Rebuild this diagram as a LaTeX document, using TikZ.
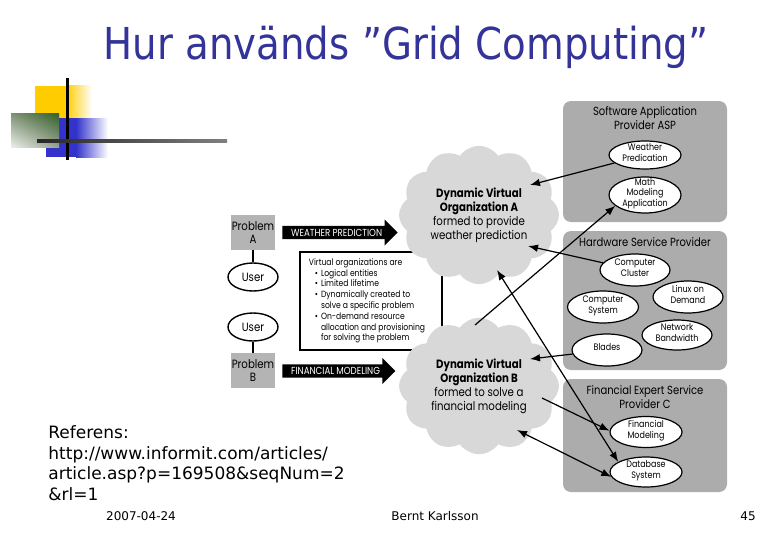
\documentclass[tikz,border=0pt]{standalone}
\usepackage{fontspec}
\setmainfont{DejaVu Sans}
\newfontfamily\figfont[FakeStretch=0.85]{Poppins}
\newfontfamily\titlefont[FakeStretch=0.88]{DejaVu Sans}
\usetikzlibrary{shapes.geometric,shapes.symbols,shapes.arrows,arrows.meta,calc,shadings}
\definecolor{titleblue}{RGB}{51,51,153}
\definecolor{cloudgray}{RGB}{216,216,216}
\definecolor{panelgray}{RGB}{172,172,172}
\definecolor{probgray}{RGB}{180,180,180}
\definecolor{decoyellow}{RGB}{255,204,0}
\definecolor{decoblue}{RGB}{51,51,204}
\definecolor{decogreen}{RGB}{50,95,40}
\definecolor{greenlt}{RGB}{125,145,115}
\definecolor{greenmd}{RGB}{150,160,140}
\definecolor{greenwh}{RGB}{236,238,234}
\newcommand{\svclines}[1]{\smash{\lower0.6pt\hbox{\begin{tabular}{@{}c@{}}#1\end{tabular}}}}

\begin{document}
\begin{tikzpicture}[x=0.5pt,y=-0.5pt,
  panel/.style={fill=panelgray,rounded corners=4pt,inner sep=0pt},
  paneltitle/.style={font=\figfont\fontsize{5.9}{6.6}\selectfont,align=center,inner sep=0pt},
  svc/.style={ellipse,draw,fill=white,line width=0.6pt,inner sep=0pt,font=\figfont\fontsize{4.7}{5.3}\selectfont},
  problem/.style={fill=probgray,minimum width=22pt,minimum height=17.5pt,inner sep=0pt,align=center,font=\figfont\fontsize{6}{6.6}\selectfont},
  user/.style={ellipse,draw,line width=0.7pt,minimum width=25pt,minimum height=14pt,inner sep=0pt,font=\figfont\fontsize{6}{7}\selectfont},
  task/.style={single arrow,fill=black,text=white,single arrow head extend=3.2pt,inner xsep=4.2pt,inner ysep=1.3pt,text height=3.6pt,text depth=0pt,font=\figfont\fontsize{5.1}{6}\selectfont},
  org/.style={cloud,cloud puffs=12,cloud puff arc=110,aspect=1.1,fill=cloudgray,minimum width=80pt,minimum height=60pt,inner sep=0pt,align=center,font=\figfont\fontsize{6}{7}\selectfont},
  conn/.style={line width=0.6pt,-{Latex[length=5pt,width=3.8pt]}},
  both/.style={line width=0.6pt,{Latex[length=5pt,width=3.8pt]}-{Latex[length=5pt,width=3.8pt]}},
  slide/.style={font=\fontsize{8.5}{10.4}\selectfont,inner sep=0pt},
  footer/.style={font=\fontsize{6}{7}\selectfont,inner sep=0pt}]
\useasboundingbox (0,0) rectangle (780,540);

\fill[decoyellow] (35,86) rectangle (66,128);
\shade[left color=decoyellow,right color=white] (66,86) rectangle (92,128);
\fill[decoblue] (46,118) rectangle (76,157);
\shade[left color=decoblue,right color=white] (76,118) rectangle (108,157);
\shade[upper left=greenlt,upper right=decogreen,lower left=greenwh,lower right=greenmd] (11,113) rectangle (59,147);
\draw[line width=1.5pt] (67,78) -- (67,160);
\shade[left color=black!85,right color=black!50] (37,139.5) rectangle (227,142.5);

\node[anchor=base,text=titleblue,font=\titlefont\fontsize{22}{26}\selectfont] (title) at (406,60) {Hur används ”Grid Computing”};

\node[problem] (probA) at (253,232.5) {Problem\\A};
\node[user] (userA) at (253,277) {User};
\node[user] (userB) at (253,327) {User};
\node[problem] (probB) at (253,370.5) {Problem\\B};
\draw[line width=1pt] (probA) -- (userA);
\draw[line width=1pt] (userB) -- (probB);
\node[task,anchor=west] (wpred) at (282,232.5) {WEATHER PREDICTION};
\node[task,anchor=west] (fmod) at (282,371) {FINANCIAL MODELING};

\node[draw,line width=0.6pt,fill=white,minimum width=71pt,minimum height=49pt,inner sep=0pt,
  font=\figfont\fontsize{4.5}{5.4}\selectfont] (vonote) at (371,301)
  {\begin{tabular}{@{}l@{\hspace{1.5pt}}l@{}}
   \multicolumn{2}{@{}l}{Virtual organizations are}\\
   \hspace{3pt}\textbullet & Logical entities\\
   \hspace{3pt}\textbullet & Limited lifetime\\
   \hspace{3pt}\textbullet & Dynamically created to\\
   & solve a specific problem\\
   \hspace{3pt}\textbullet & On-demand resource\\
   & allocation and provisioning\\
   & for solving the problem
  \end{tabular}\hspace*{4pt}};

\node[org] (orgA) at (479,215) {\textbf{Dynamic Virtual}\\\textbf{Organization A}\\formed to provide\\weather prediction};
\node[org] (orgB) at (479,386) {\textbf{Dynamic Virtual}\\\textbf{Organization B}\\formed to solve a\\financial modeling};

\node[panel,minimum width=82pt,minimum height=60.5pt] (asp) at (645,161.5) {};
\node[panel,minimum width=82pt,minimum height=69.5pt] (hsp) at (645,300.5) {};
\node[panel,minimum width=82pt,minimum height=56.5pt] (fesp) at (645,435.5) {};
\node[paneltitle] (aspT) at (645,118) {Software Application\\Provider ASP};
\node[paneltitle] (hspT) at (645,242) {Hardware Service Provider};
\node[paneltitle] (fespT) at (645,397) {Financial Expert Service\\Provider C};

\node[svc,minimum width=36pt,minimum height=14pt] (wp) at (645,155) {\svclines{Weather\\Predication}};
\node[svc,minimum width=36pt,minimum height=18pt] (mm) at (645,195) {\svclines{Math\\Modeling\\Application}};
\node[svc,minimum width=35pt,minimum height=16pt] (cc) at (635,270) {\svclines{Computer\\Cluster}};
\node[svc,minimum width=35pt,minimum height=16pt] (lod) at (688,297) {\svclines{Linux on\\Demand}};
\node[svc,minimum width=35.5pt,minimum height=16pt] (cs) at (603,307) {\svclines{Computer\\System}};
\node[svc,minimum width=35pt,minimum height=15pt] (nb) at (677,335) {\svclines{Network\\Bandwidth}};
\node[svc,minimum width=35pt,minimum height=16pt] (bl) at (607,350) {\svclines{Blades}};
\node[svc,minimum width=36pt,minimum height=15.5pt] (fm) at (646,432) {\svclines{Financial\\Modeling}};
\node[svc,minimum width=36pt,minimum height=15pt] (dbs) at (646,472) {\svclines{Database\\System}};

\draw[conn] (wp) -- ($(orgA)+(51,-30)$);
\draw[conn] ($(orgB)+(-4,-61)$) -- (mm.200);
\draw[conn] (cc) -- ($(orgA)+(49,31)$);
\draw[conn] (bl) -- ($(orgB)+(51,-27)$);
\draw[both] ($(orgA)+(18,55)$) -- (dbs.160);
\draw[conn] ($(orgB)+(63,12)$) -- (fm.178);
\draw[both] ($(orgB)+(38,44)$) -- (dbs.188);

\node[slide,anchor=north west,align=left] (ref) at (48,425) {Referens:\\http://www.informit.com/articles/\\article.asp?p=169508\&seqNum=2\\\&rl=1};
\node[footer] (date) at (141,516) {2007-04-24};
\node[footer] (author) at (435,516) {Bernt Karlsson};
\node[footer] (page) at (748,516) {45};
\end{tikzpicture}
\end{document}
